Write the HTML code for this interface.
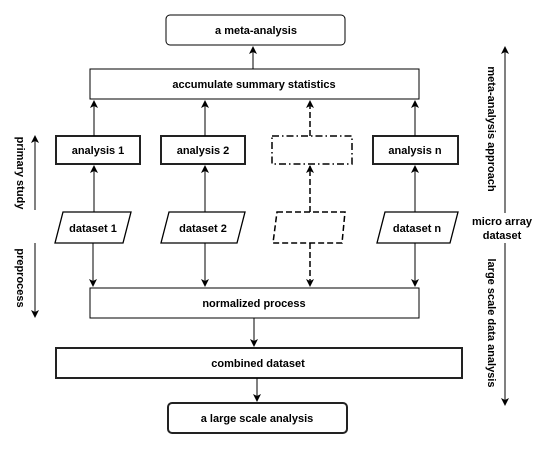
<!DOCTYPE html>
<html><head><meta charset="utf-8"><style>
html,body{margin:0;padding:0;background:#fff}
text{font-family:"Liberation Sans",Arial,sans-serif;font-weight:bold;font-size:11px;fill:#000}
</style></head><body>
<svg width="556" height="448" viewBox="0 0 556 448" xmlns="http://www.w3.org/2000/svg">
<defs>
<marker id="a" markerWidth="8" markerHeight="10" refX="7" refY="4" orient="auto" markerUnits="userSpaceOnUse">
<path d="M0,0 L8,4 L0,8 L2,4 z" fill="#000"/></marker>
</defs>
<g stroke="#000" fill="#fff">
<rect x="166" y="15" width="179" height="30" rx="4" stroke-width="1"/>
<rect x="90" y="69" width="329" height="30" stroke-width="1"/>
<rect x="56" y="136" width="84" height="28" stroke-width="2" stroke="#222"/>
<rect x="161" y="136" width="84" height="28" stroke-width="2" stroke="#222"/>
<rect x="272" y="136" width="80" height="28" stroke-width="1.5" stroke-dasharray="7,3,1.5,3"/>
<rect x="373" y="136" width="85" height="28" stroke-width="2" stroke="#222"/>
<polygon points="63,212 131,212 123,243 55,243" stroke-width="1.3"/>
<polygon points="169,212 245,212 237,243 161,243" stroke-width="1.3"/>
<polygon points="277,212 345,212 342,243 273,243" stroke-width="1.5" stroke-dasharray="6,3"/>
<polygon points="385,212 458,212 450,243 377,243" stroke-width="1.3"/>
<rect x="90" y="288" width="329" height="30" stroke-width="1"/>
<rect x="56" y="348" width="406" height="30" stroke-width="2" stroke="#222"/>
<rect x="168" y="403" width="179" height="30" rx="4" stroke-width="2" stroke="#222"/>
</g>
<g stroke="#000" stroke-width="1" fill="none" marker-end="url(#a)">
<line x1="253" y1="69" x2="253" y2="47"/>
<line x1="94" y1="136" x2="94" y2="101"/>
<line x1="205" y1="136" x2="205" y2="101"/>
<line x1="415" y1="136" x2="415" y2="101"/>
<line x1="94" y1="212" x2="94" y2="166"/>
<line x1="205" y1="212" x2="205" y2="166"/>
<line x1="415" y1="212" x2="415" y2="166"/>
<line x1="93" y1="243" x2="93" y2="286"/>
<line x1="205" y1="243" x2="205" y2="286"/>
<line x1="415" y1="243" x2="415" y2="286"/>
<line x1="254" y1="318" x2="254" y2="346"/>
<line x1="257" y1="378" x2="257" y2="401"/>
<line x1="35" y1="210" x2="35" y2="136"/>
<line x1="35" y1="243" x2="35" y2="317"/>
<line x1="505" y1="213" x2="505" y2="47"/>
<line x1="505" y1="243" x2="505" y2="405"/>
</g>
<g stroke="#000" stroke-width="1.5" fill="none" stroke-dasharray="6,3">
<line x1="310" y1="136" x2="310" y2="101" marker-end="url(#a)"/>
<line x1="310" y1="212" x2="310" y2="166" marker-end="url(#a)"/>
<line x1="310" y1="243" x2="310" y2="286" marker-end="url(#a)"/>
</g>
<g text-anchor="middle">
<text x="256" y="34">a meta-analysis</text>
<text x="254" y="88">accumulate summary statistics</text>
<text x="98" y="154">analysis 1</text>
<text x="203" y="154">analysis 2</text>
<text x="415" y="154">analysis n</text>
<text x="93" y="232">dataset 1</text>
<text x="203" y="232">dataset 2</text>
<text x="417" y="232">dataset n</text>
<text x="254" y="307">normalized process</text>
<text x="258" y="367">combined dataset</text>
<text x="257" y="422">a large scale analysis</text>
<text x="502" y="225">micro array</text>
<text x="502" y="239">dataset</text>
<text transform="translate(17,173) rotate(90)">primary study</text>
<text transform="translate(17,278) rotate(90)">preprocess</text>
<text transform="translate(488,129) rotate(90)">meta-analysis approach</text>
<text transform="translate(488,323) rotate(90)">large scale data analysis</text>
</g>
</svg>
</body></html>
